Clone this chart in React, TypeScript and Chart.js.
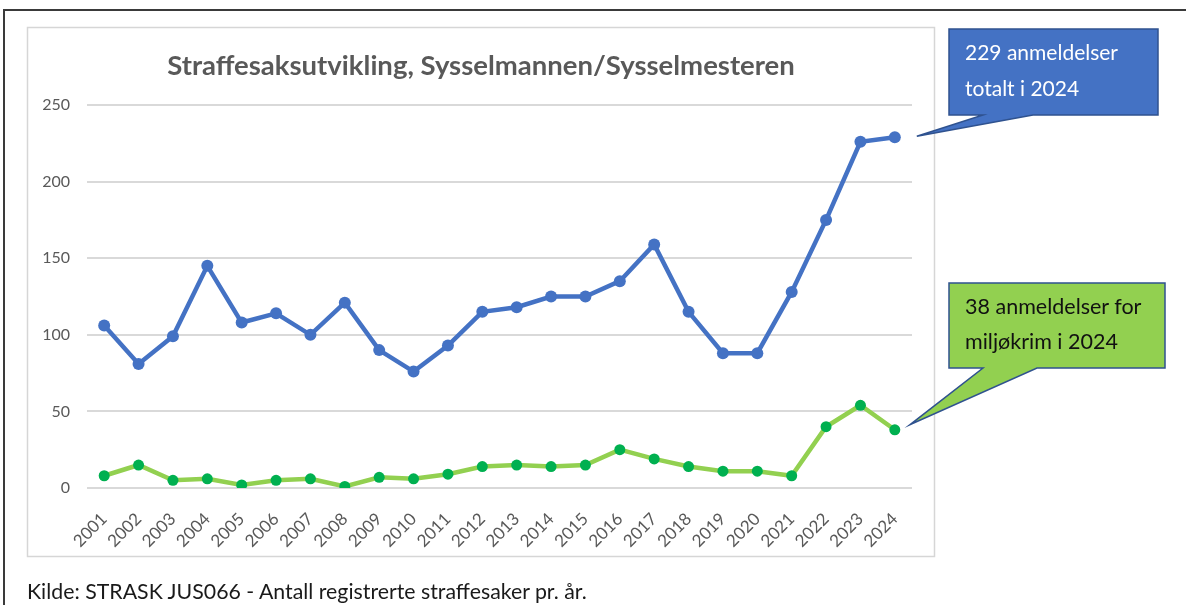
import React, { useEffect, useRef } from "react";
import { Chart, registerables } from "chart.js";

Chart.register(...registerables);

const years = [
  "2001", "2002", "2003", "2004", "2005", "2006", "2007", "2008", "2009", "2010", "2011", "2012",
  "2013", "2014", "2015", "2016", "2017", "2018", "2019", "2020", "2021", "2022", "2023", "2024",
];
const totalCases = [106, 81, 99, 145, 108, 114, 100, 121, 90, 76, 93, 115, 118, 125, 125, 135, 159, 115, 88, 88, 128, 175, 226, 229];
const environmentalCases = [8, 15, 5, 6, 2, 5, 6, 1, 7, 6, 9, 14, 15, 14, 15, 25, 19, 14, 11, 11, 8, 40, 54, 38];
const yTicks = [0, 50, 100, 150, 200, 250];

const chartTitle = "Straffesaksutvikling, Sysselmannen/Sysselmesteren";
const blueNote = ["229 anmeldelser", "totalt i 2024"];
const greenNote = ["38 anmeldelser for", "miljøkrim i 2024"];
const sourceText = "Kilde: STRASK JUS066 - Antall registrerte straffesaker pr. år.";

const FONT = "Lato, 'Open Sans', sans-serif";

const decorPlugin = {
  id: "decor",
  beforeDraw(chart: any) {
    const ctx = chart.ctx;
    ctx.save();
    ctx.fillStyle = "#ffffff";
    ctx.fillRect(0, 0, chart.width, chart.height);
    // outer frame
    ctx.strokeStyle = "#3a3a3a";
    ctx.lineWidth = 2;
    ctx.beginPath();
    ctx.moveTo(4, 605);
    ctx.lineTo(4, 10);
    ctx.lineTo(1186, 10);
    ctx.stroke();
    // chart box
    ctx.strokeStyle = "#d6d6d6";
    ctx.lineWidth = 1.5;
    ctx.strokeRect(27.5, 27.5, 907, 529);
    ctx.restore();
  },
  afterDraw(chart: any) {
    const ctx = chart.ctx;
    const callout = (
      pt: { x: number; y: number },
      box: [number, number, number, number],
      base: [number, number],
      tip: [number, number],
      fill: string,
    ) => {
      const [l, t, r, b] = box;
      ctx.save();
      ctx.beginPath();
      ctx.moveTo(l, t);
      ctx.lineTo(r, t);
      ctx.lineTo(r, b);
      ctx.lineTo(base[1], b);
      ctx.lineTo(pt.x + tip[0], pt.y + tip[1]);
      ctx.lineTo(base[0], b);
      ctx.lineTo(l, b);
      ctx.closePath();
      ctx.fillStyle = fill;
      ctx.fill();
      ctx.strokeStyle = "#2f528f";
      ctx.lineWidth = 1.5;
      ctx.stroke();
      ctx.restore();
    };
    const last = years.length - 1;
    const p0 = chart.getDatasetMeta(0).data[last];
    const p1 = chart.getDatasetMeta(1).data[last];
    callout(p0, [949, 29, 1158, 115], [983, 1033], [22, -1], "#4472c4");
    callout(p1, [949, 283, 1165, 368], [983, 1037], [15, -5], "#92d050");
  },
};

export default function App() {
  const ref = useRef<HTMLCanvasElement | null>(null);

  useEffect(() => {
    if (!ref.current) return;
    const chart = new Chart(ref.current, {
      type: "line",
      data: {
        labels: years,
        datasets: [
          {
            label: "Totalt",
            data: totalCases,
            borderColor: "#4472c4",
            backgroundColor: "#4472c4",
            pointBackgroundColor: "#4472c4",
            pointBorderColor: "#4472c4",
            borderWidth: 4.5,
            pointRadius: 6,
            pointBorderWidth: 0,
            tension: 0,
          },
          {
            label: "Miljøkrim",
            data: environmentalCases,
            borderColor: "#92d050",
            backgroundColor: "#00b050",
            pointBackgroundColor: "#00b050",
            pointBorderColor: "#00b050",
            borderWidth: 4.5,
            pointRadius: 5.5,
            pointBorderWidth: 0,
            tension: 0,
          },
        ],
      },
      options: {
        responsive: false,
        animation: false,
        events: [],
        layout: { padding: { left: 27, right: 274, top: 105, bottom: 50 } },
        plugins: {
          legend: { display: false },
          tooltip: { enabled: false },
          title: { display: false },
        },
        scales: {
          x: {
            offset: true,
            grid: { display: false },
            border: { display: false },
            afterFit: (s: any) => {
              s.height = 67;
            },
            ticks: {
              autoSkip: false,
              minRotation: 45,
              maxRotation: 45,
              padding: 13,
              color: "#595959",
              font: { family: FONT, size: 17 },
            },
          },
          y: {
            min: 0,
            max: 250,
            afterFit: (s: any) => {
              s.width = 60;
            },
            afterBuildTicks: (s: any) => {
              s.ticks = yTicks.map((v) => ({ value: v }));
            },
            grid: { color: "#d9d9d9", lineWidth: 2, drawTicks: false },
            border: { display: false },
            ticks: {
              padding: 17,
              color: "#595959",
              font: { family: FONT, size: 16 },
            },
          },
        },
      },
      plugins: [decorPlugin],
    });
    return () => chart.destroy();
  }, []);

  return (
    <div style={{ position: "absolute", left: 0, top: 0, width: 1186, height: 605, background: "#fff", overflow: "hidden" }}>
      <canvas ref={ref} width={1186} height={605} style={{ position: "absolute", left: 0, top: 0 }} />
      <div
        style={{
          position: "absolute",
          left: 27,
          width: 908,
          top: 47,
          textAlign: "center",
          fontFamily: FONT,
          fontWeight: 700,
          fontSize: 27.5,
          lineHeight: "36px",
          color: "#595959",
          whiteSpace: "nowrap",
        }}
      >
        {chartTitle}
      </div>
      <div
        style={{
          position: "absolute",
          left: 965,
          top: 34,
          fontFamily: FONT,
          fontSize: 21,
          lineHeight: "36px",
          color: "#ffffff",
          whiteSpace: "nowrap",
        }}
      >
        {blueNote.map((s) => (
          <div key={s}>{s}</div>
        ))}
      </div>
      <div
        style={{
          position: "absolute",
          left: 965,
          top: 289,
          fontFamily: FONT,
          fontSize: 21.5,
          lineHeight: "35px",
          color: "#111111",
          whiteSpace: "nowrap",
        }}
      >
        {greenNote.map((s) => (
          <div key={s}>{s}</div>
        ))}
      </div>
      <div
        style={{
          position: "absolute",
          left: 27,
          top: 578,
          fontFamily: FONT,
          fontSize: 21.3,
          color: "#1a1a1a",
          whiteSpace: "nowrap",
        }}
      >
        {sourceText}
      </div>
    </div>
  );
}
